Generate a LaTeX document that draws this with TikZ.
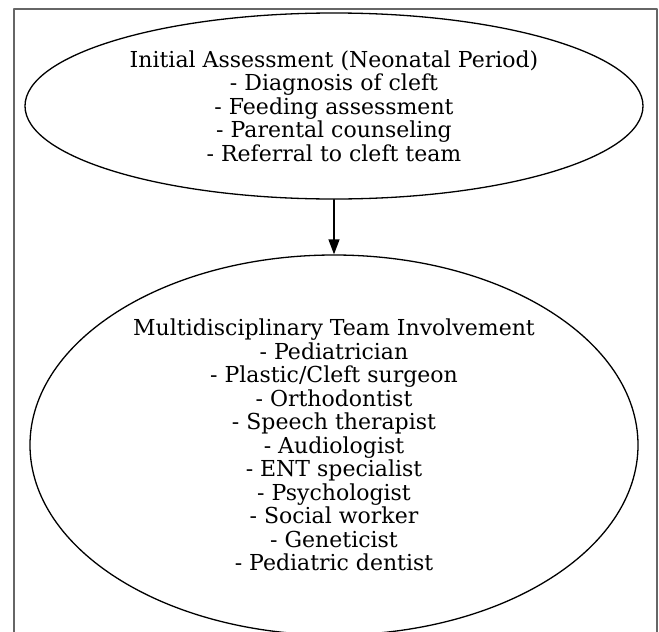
\documentclass[tikz,border=0pt]{standalone}
\usepackage{fontspec}
\setmainfont{DejaVu Serif}
\usetikzlibrary{shapes.geometric,arrows.meta}
\begin{document}
\begin{tikzpicture}[x=1pt, y=-1pt, line cap=round, line join=round,
    stage/.style={ellipse, draw, line width=1.3pt, inner sep=0pt, align=center,
      font=\fontsize{22}{23.5}\selectfont},
    flow/.style={line width=1.3pt, -{Triangle[length=15pt, width=11pt]}}]
  \useasboundingbox (0,0) rectangle (659,632);
  \begin{scope}
    \clip (0,0) rectangle (659,632);
    \draw[black!60, line width=1.5pt] (14,650) -- (14,9) -- (657,9) -- (657,650);
    \node[stage, minimum width=618pt, minimum height=186pt] (init) at (334,106)
      {Initial Assessment (Neonatal Period)\\- Diagnosis of cleft\\- Feeding assessment\\- Parental counseling\\- Referral to cleft team};
    \node[stage, minimum width=608pt, minimum height=380pt] (team) at (334,445)
      {Multidisciplinary Team Involvement\\- Pediatrician\\- Plastic/Cleft surgeon\\- Orthodontist\\- Speech therapist\\- Audiologist\\- ENT specialist\\- Psychologist\\- Social worker\\- Geneticist\\- Pediatric dentist};
    \draw[flow] (init) -- (team);
  \end{scope}
\end{tikzpicture}
\end{document}
